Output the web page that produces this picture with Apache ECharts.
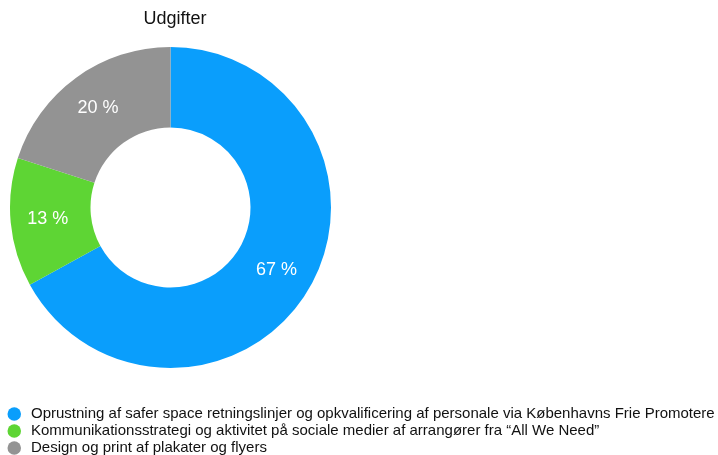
<!DOCTYPE html>
<html>
<head>
<meta charset="utf-8">
<script src="https://cdn.jsdelivr.net/npm/echarts@6/dist/echarts.min.js"></script>
<style>
  html, body { margin: 0; padding: 0; background: #fff; }
  #main { width: 718px; height: 455px; }
</style>
</head>
<body>
<div id="main"></div>
<script>
// kategorier
var categories = [
    'Oprustning af safer space retningslinjer og opkvalificering af personale via Københavns Frie Promotere',
    'Kommunikationsstrategi og aktivitet på sociale medier af arrangører fra “All We Need”',
    'Design og print af plakater og flyers'
];
// andel i procent
var values = [67, 13, 20];
// farver
var colors = ['#0a9efc', '#5ed534', '#939393'];

var data = [];
for (var i = 0; i < categories.length; i++) {
    data.push({
        name: categories[i],
        value: values[i],
        itemStyle: { color: colors[i] }
    });
}

var chart = echarts.init(document.getElementById('main'), null, { renderer: 'canvas' });
var option = {
    backgroundColor: '#fff',
    animation: false,
    title: {
        text: 'Udgifter',
        left: 170,
        top: 5,
        textAlign: 'center',
        textStyle: {
            fontFamily: 'Liberation Sans, Arial, sans-serif',
            fontSize: 18,
            fontWeight: 'normal',
            color: '#111'
        }
    },
    legend: {
        orient: 'vertical',
        left: 7.5,
        top: 406.5,
        height: 100,
        padding: 0,
        itemGap: 2,
        itemWidth: 13.5,
        itemHeight: 13.5,
        icon: 'circle',
        textStyle: {
            fontFamily: 'Liberation Sans, Arial, sans-serif',
            fontSize: 15,
            lineHeight: 13,
            color: '#111',
            padding: [0, 0, 0, 5]
        },
        data: categories
    },
    series: [
        {
            type: 'pie',
            center: [170.5, 207.5],
            radius: [80, 160.5],
            startAngle: 90,
            clockwise: true,
            avoidLabelOverlap: false,
            label: {
                show: true,
                position: 'inside',
                formatter: function (p) { return p.value + ' %'; },
                color: '#fff',
                fontFamily: 'Liberation Sans, Arial, sans-serif',
                fontSize: 18
            },
            labelLine: { show: false },
            emphasis: { disabled: true },
            data: data
        }
    ]
};
chart.setOption(option);
</script>
</body>
</html>
